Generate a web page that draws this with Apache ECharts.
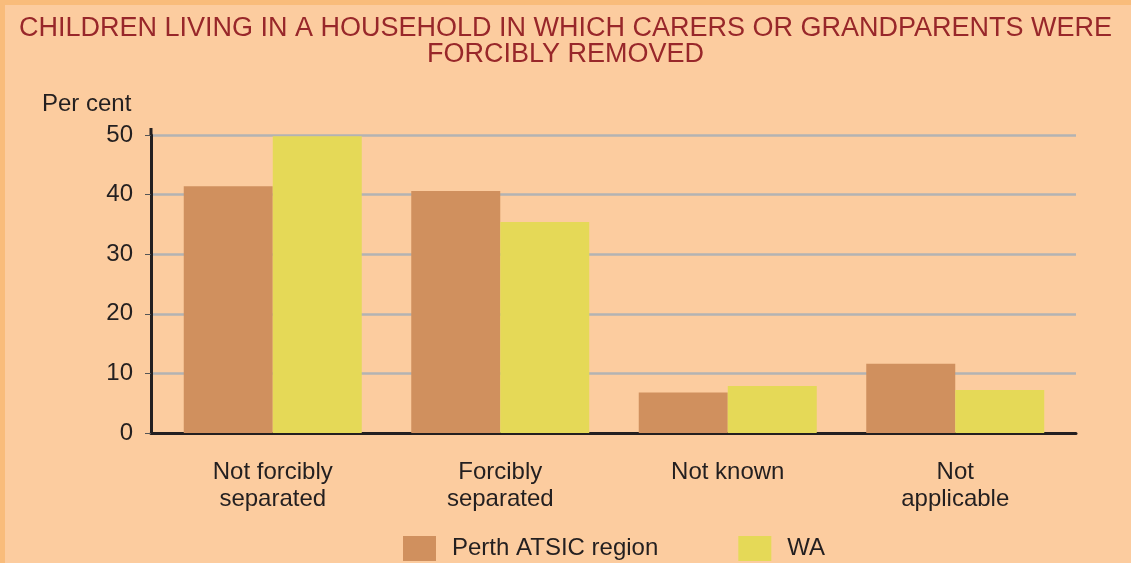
<!DOCTYPE html>
<html>
<head>
<meta charset="utf-8">
<script src="https://cdn.jsdelivr.net/npm/echarts@6/dist/echarts.min.js"></script>
<style>
  html, body { margin: 0; padding: 0; background: #fccc9f; }
  #chart { width: 1131px; height: 563px; }
</style>
</head>
<body>
<div id="chart"></div>
<script>
// data
const categories = ["Not forcibly\nseparated", "Forcibly\nseparated", "Not known", "Not\napplicable"];
const perthValues = [41.4, 40.6, 6.8, 11.6];   // Perth ATSIC region
const waValues = [49.8, 35.4, 7.9, 7.2];       // WA
const yTicks = [0, 10, 20, 30, 40, 50];

const FONT = "'Liberation Sans', sans-serif";
const INK = "#231f20";

const chart = echarts.init(document.getElementById("chart"));

const options = {
  backgroundColor: "#fccc9f",
  animation: false,
  title: {
    text: "CHILDREN LIVING IN A HOUSEHOLD IN WHICH CARERS OR GRANDPARENTS WERE\nFORCIBLY REMOVED",
    left: "center",
    top: 16,
    padding: [0, 0, 0, 12],
    textStyle: {
      fontFamily: FONT,
      fontSize: 27,
      lineHeight: 26,
      fontWeight: "normal",
      color: "#98272a",
    },
  },
  legend: {
    left: 403,
    top: 536,
    padding: 0,
    itemWidth: 33,
    itemHeight: 25,
    itemGap: 80,
    icon: "rect",
    textStyle: {
      fontFamily: FONT,
      fontSize: 24,
      color: INK,
      padding: [2, 0, 0, 11],
    },
    data: ["Perth ATSIC region", "WA"],
  },
  graphic: [
    // orange frame on the left / top edge
    { type: "rect", shape: { x: 0, y: 0, width: 5, height: 563 }, style: { fill: "#f9bc7b" } },
    { type: "rect", shape: { x: 0, y: 0, width: 1131, height: 5 }, style: { fill: "#f9bc7b" } },
    // little overshoot of the y axis line above 50
    { type: "line", shape: { x1: 151, y1: 128, x2: 151, y2: 136 }, style: { stroke: INK, lineWidth: 3 } },
    {
      type: "text",
      left: 42,
      top: 92,
      style: { text: "Per cent", font: "24px " + FONT, fill: INK },
    },
  ],
  grid: [
    // bars
    { left: 159, right: 62, top: 135, bottom: 130 },
    // frame: axes, gridlines, labels
    { left: 151, right: 55, top: 135, bottom: 130 },
  ],
  xAxis: [
    {
      gridIndex: 0,
      type: "category",
      data: categories,
      axisLine: { show: false },
      axisTick: { show: false },
      axisLabel: {
        margin: 26,
        fontFamily: FONT,
        fontSize: 24,
        lineHeight: 27,
        color: INK,
      },
    },
    {
      gridIndex: 1,
      type: "value",
      min: 0,
      max: 1,
      axisLine: { show: true, onZero: false, lineStyle: { color: INK, width: 3 } },
      axisTick: { show: false },
      axisLabel: { show: false },
      splitLine: { show: false },
    },
  ],
  yAxis: [
    {
      gridIndex: 0,
      type: "value",
      min: 0,
      max: 50,
      interval: 10,
      show: false,
    },
    {
      gridIndex: 1,
      type: "value",
      min: yTicks[0],
      max: yTicks[yTicks.length - 1],
      interval: 10,
      axisLine: { show: true, lineStyle: { color: INK, width: 3 } },
      axisTick: { show: true, length: 6, lineStyle: { color: "#555", width: 1 } },
      axisLabel: {
        margin: 18,
        fontFamily: FONT,
        fontSize: 24,
        color: INK,
      },
      splitLine: {
        show: true,
        showMinLine: false,
        lineStyle: { color: "#b3b3b3", width: 2.5 },
      },
      z: 1,
    },
  ],
  series: [
    {
      name: "Perth ATSIC region",
      type: "bar",
      xAxisIndex: 0,
      yAxisIndex: 0,
      barWidth: 89,
      barGap: "0%",
      itemStyle: { color: "#d0905e" },
      data: perthValues,
      z: 3,
    },
    {
      name: "WA",
      type: "bar",
      xAxisIndex: 0,
      yAxisIndex: 0,
      barWidth: 89,
      barGap: "0%",
      itemStyle: { color: "#e5d957" },
      data: waValues,
      z: 3,
    },
  ],
};

chart.setOption(options);
</script>
</body>
</html>
